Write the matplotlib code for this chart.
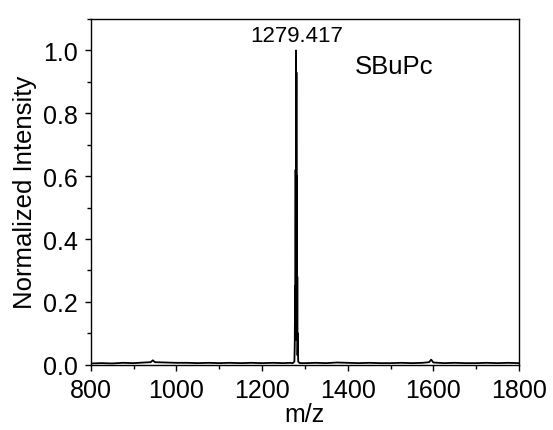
import numpy as np
import matplotlib.pyplot as plt
from matplotlib.ticker import MultipleLocator

plt.rcParams['font.family'] = ['Liberation Sans', 'DejaVu Sans']

base_mz = [800, 825, 850, 875, 900, 925, 940, 945, 950, 975, 1000, 1025, 1050,
           1075, 1100, 1125, 1150, 1175, 1200, 1225, 1250, 1265]
base_int = [0.004, 0.005, 0.004, 0.006, 0.005, 0.007, 0.008, 0.014, 0.008, 0.007,
            0.006, 0.006, 0.005, 0.006, 0.005, 0.006, 0.005, 0.006, 0.005, 0.006,
            0.005, 0.006]

# main isotope cluster
peak_mz = [1272, 1275.6, 1276.4, 1277.4, 1277.9, 1278.4, 1278.9, 1279.4, 1279.9,
           1280.4, 1280.9, 1281.4, 1281.9, 1282.4, 1282.9, 1283.4, 1284.5, 1288]
peak_int = [0.005, 0.01, 0.06, 0.25, 0.08, 0.62, 0.15, 1.0, 0.2, 0.93, 0.15,
            0.6, 0.08, 0.28, 0.03, 0.1, 0.01, 0.005]

base2_mz = [1300, 1325, 1350, 1375, 1400, 1425, 1450, 1475, 1500, 1525, 1550,
            1575, 1590, 1595, 1600, 1625, 1650, 1675, 1700, 1725, 1750, 1775, 1800]
base2_int = [0.005, 0.006, 0.005, 0.007, 0.006, 0.005, 0.006, 0.005, 0.005, 0.006,
             0.005, 0.006, 0.008, 0.016, 0.007, 0.005, 0.006, 0.005, 0.005, 0.006,
             0.005, 0.006, 0.005]

mz = base_mz + peak_mz + base2_mz
inten = base_int + peak_int + base2_int

fig = plt.figure(figsize=(5.53, 4.31), dpi=100)
ax = fig.add_axes([0.164, 0.1515, 0.7745, 0.802])

ax.plot(mz, inten, color='black', lw=1.3)

ax.set_xlim(800, 1800)
ax.set_ylim(0, 1.1)
ax.xaxis.set_major_locator(MultipleLocator(200))
ax.xaxis.set_minor_locator(MultipleLocator(100))
ax.yaxis.set_major_locator(MultipleLocator(0.2))
ax.yaxis.set_minor_locator(MultipleLocator(0.1))
ax.yaxis.set_major_formatter(plt.FormatStrFormatter('%.1f'))
ax.tick_params(which='major', length=4.5, width=1, labelsize=18, pad=5)
ax.tick_params(which='minor', length=2.8, width=1)
for s in ax.spines.values():
    s.set_linewidth(1)

ax.set_xlabel('m/z', fontsize=18, labelpad=0)
ax.set_ylabel('Normalized Intensity', fontsize=18.5, labelpad=4)

ax.text(1282, 1.047, '1279.417', fontsize=16, ha='center', va='center')
ax.text(1417, 0.95, 'SBuPc', fontsize=18.5, ha='left', va='center')

fig.savefig('out.png', dpi=100)
